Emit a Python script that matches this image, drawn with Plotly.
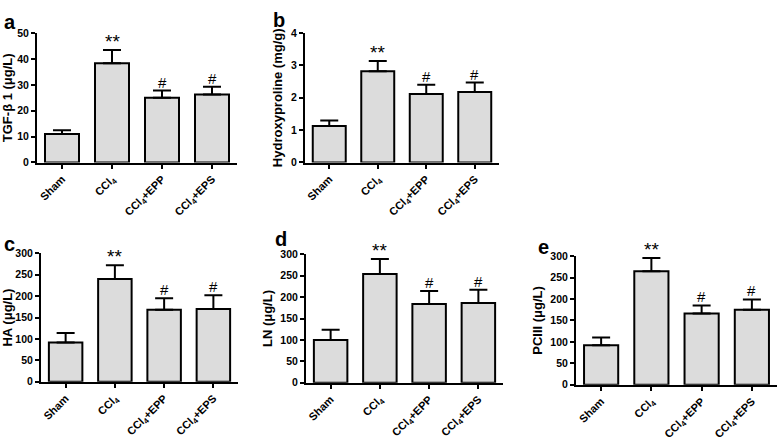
import plotly.graph_objects as go

categories = ["Sham", "CCl4", "CCl4+EPP", "CCl4+EPS"]
tick_labels = ["Sham", "CCl<sub>4</sub>", "CCl<sub>4</sub>+EPP", "CCl<sub>4</sub>+EPS"]
marks = ["", "**", "#", "#"]

tgf_mean = [11.0, 38.3, 25.0, 26.3]
tgf_err = [1.5, 5.2, 2.8, 3.0]

hyp_mean = [1.13, 2.82, 2.12, 2.18]
hyp_err = [0.17, 0.32, 0.28, 0.29]

ha_mean = [92, 240, 168, 170]
ha_err = [22, 32, 27, 32]

ln_mean = [100, 254, 184, 186]
ln_err = [24, 35, 30, 31]

pc_mean = [92, 265, 166, 175]
pc_err = [18, 31, 19, 24]

W, H = 778, 442
panels = [
    dict(letter="a", mean=tgf_mean, err=tgf_err, title="TGF-β 1 (μg/L)", yr=[0, 50], dt=10,
         x0=37, x1=237, ybot=162, ytop=28, lx=2, ly=3),
    dict(letter="b", mean=hyp_mean, err=hyp_err, title="Hydroxyproline (mg/g)", yr=[0, 4], dt=1,
         x0=305, x1=499, ybot=162, ytop=28, lx=271, ly=1),
    dict(letter="c", mean=ha_mean, err=ha_err, title="HA (μg/L)", yr=[0, 300], dt=50,
         x0=41, x1=238, ybot=389, ytop=256, lx=2, ly=233),
    dict(letter="d", mean=ln_mean, err=ln_err, title="LN (μg/L)", yr=[0, 300], dt=50,
         x0=306, x1=503, ybot=390, ytop=257, lx=273, ly=228),
    dict(letter="e", mean=pc_mean, err=pc_err, title="PCIII (μg/L)", yr=[0, 300], dt=50,
         x0=576, x1=777, ybot=392, ytop=259, lx=536, ly=236),
]

FONT = "Arial, Liberation Sans, sans-serif"
fig = go.Figure()
annotations = []
layout = {}
for i, p in enumerate(panels, start=1):
    xa = "x" if i == 1 else f"x{i}"
    ya = "y" if i == 1 else f"y{i}"
    fig.add_trace(go.Bar(
        x=categories, y=p["mean"], xaxis=xa, yaxis=ya,
        marker=dict(color="#dcdcdc", line=dict(color="black", width=2)),
        error_y=dict(type="data", array=p["err"], arrayminus=[0]*4, symmetric=False,
                     color="black", thickness=2, width=9),
        showlegend=False,
    ))
    key = "" if i == 1 else str(i)
    layout["xaxis" + key] = dict(
        domain=[p["x0"] / W, p["x1"] / W], anchor=ya, type="category", categoryorder="array",
        categoryarray=categories, tickvals=categories, ticktext=tick_labels,
        tickangle=-45, showline=True, linecolor="black", linewidth=2,
        ticks="outside", ticklen=4, tickwidth=2, tickcolor="black",
        showgrid=False, zeroline=False, range=[-0.5, 3.5],
        tickfont=dict(family=FONT, size=11, color="black", weight="bold"),
    )
    layout["yaxis" + key] = dict(
        domain=[1 - p["ybot"] / H, 1 - p["ytop"] / H], anchor=xa, range=p["yr"], dtick=p["dt"],
        showline=True, linecolor="black", linewidth=2,
        ticks="outside", ticklen=4, tickwidth=2, tickcolor="black",
        showgrid=False, zeroline=False,
        tickfont=dict(family=FONT, size=10.5, color="black", weight="bold"),
        title=dict(text=p["title"], standoff=5,
                   font=dict(family=FONT, size=13, color="black", weight="bold")),
    )
    for c, m, e, mk in zip(categories, p["mean"], p["err"], marks):
        if mk:
            annotations.append(dict(
                x=c, y=m + e, xref=xa, yref=ya, text=mk, showarrow=False,
                yanchor="bottom", yshift=-4 if mk == "**" else -2,
                font=dict(family=FONT, size=19 if mk == "**" else 15, color="black"),
            ))
    annotations.append(dict(
        x=p["lx"] / W, y=1 - p["ly"] / H, xref="paper", yref="paper",
        text=p["letter"], showarrow=False, xanchor="left", yanchor="top",
        font=dict(family=FONT, size=20, color="black", weight="bold"),
    ))

fig.update_layout(
    width=W, height=H, margin=dict(l=0, r=0, t=0, b=0),
    paper_bgcolor="white", plot_bgcolor="white",
    bargap=0.32, annotations=annotations, **layout,
)
fig.write_html("out.html", config={"displayModeBar": False},
               post_script="document.body.style.margin='0';document.body.style.padding='0';")
